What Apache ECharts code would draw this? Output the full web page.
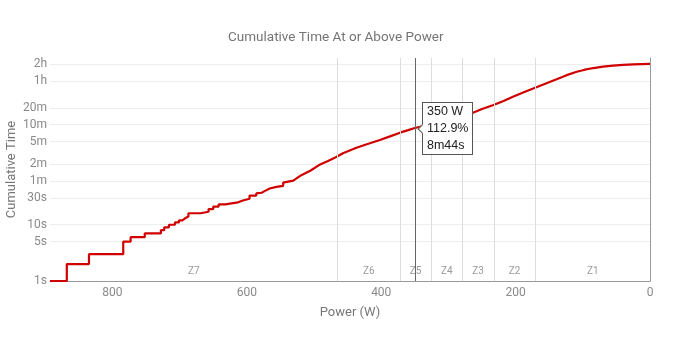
<!DOCTYPE html>
<html>
<head>
<meta charset="utf-8">
<script src="https://cdn.jsdelivr.net/npm/echarts@6/dist/echarts.min.js"></script>
<style>
  html, body { margin: 0; padding: 0; background: #fff; }
  #chart { width: 690px; height: 337px; }
</style>
</head>
<body>
<div id="chart"></div>
<script>
// Power (W), highest first, and the cumulative seconds spent at or above it.
// Repeated power values form the vertical risers of the stair steps.
const powerW = [
  893, 868, 868, 835, 835, 784, 784, 773, 773, 752, 752, 728, 728, 723, 723, 716,
  716, 707, 707, 701, 701, 696, 696, 692, 692, 687, 687, 669, 669, 657, 657, 650,
  650, 642, 642, 632, 632, 623, 623, 613, 613, 606, 606, 596, 596, 586, 586, 578,
  573, 566, 556, 546, 546, 531, 519, 505, 491, 480, 467, 457, 437, 417, 402, 387,
  372, 360, 350, 325, 300, 280, 268, 250, 233, 218, 204, 187, 170, 155, 139, 124,
  109, 97, 84, 70, 55, 40, 25, 12, 0
];
const cumSeconds = [
  1, 1, 2, 2, 3, 3, 5, 5, 6, 6, 7, 7, 8, 8, 9, 9,
  10, 10, 11, 11, 12, 12, 13, 13, 14, 14, 16, 16, 17, 17, 19, 19,
  21, 21, 23, 23, 24, 24, 25, 25, 27, 27, 29, 29, 33, 33, 36, 37,
  40, 44, 47, 49, 56, 61, 76, 92, 118, 135, 160, 186, 234, 280, 321, 372,
  433, 480, 524, 617, 743, 850, 930, 1141, 1344, 1583, 1888, 2287, 2750, 3230, 3850, 4560,
  5250, 5700, 6100, 6450, 6750, 6950, 7100, 7180, 7250
];

// Functional threshold power and the zone split points as a share of it.
const ftp = 310;
const zoneNames = ['Z1', 'Z2', 'Z3', 'Z4', 'Z5', 'Z6', 'Z7'];
const zoneUpperPct = [0.55, 0.75, 0.90, 1.05, 1.20, 1.50];

// Time axis labels (seconds) and the highlighted power.
const timeTicks = [1, 5, 10, 30, 60, 120, 300, 600, 1200, 3600, 7200];
const markerPower = 350;

function fmtDuration(sec) {
  sec = Math.round(sec);
  const h = Math.floor(sec / 3600);
  const m = Math.floor((sec % 3600) / 60);
  const s = sec % 60;
  let out = '';
  if (h) out += h + 'h';
  if (m) out += m + 'm';
  if (s || !out) out += s + 's';
  return out;
}

const maxPower = Math.max(...powerW);
const series = powerW.map((p, i) => [p, cumSeconds[i]]);
const markerIdx = powerW.indexOf(markerPower);
const markerPoint = [markerPower, cumSeconds[markerIdx]];

const bounds = [0].concat(zoneUpperPct.map(p => p * ftp), [maxPower]);
const zoneAreas = zoneNames.map((name, i) => [
  { xAxis: bounds[i], name: name },
  { xAxis: bounds[i + 1] }
]);
const zoneLines = zoneUpperPct.map(p => ({ xAxis: p * ftp }));

const gray = '#8a8a8a';
const chart = echarts.init(document.getElementById('chart'), null, { renderer: 'canvas' });

chart.setOption({
  animation: false,
  backgroundColor: '#fff',
  textStyle: { fontFamily: 'Roboto, sans-serif' },
  title: {
    text: 'Cumulative Time At or Above Power',
    left: 228,
    top: 31,
    padding: 0,
    textStyle: { fontFamily: 'Roboto', fontSize: 13.5, fontWeight: 'normal', color: '#757575' }
  },
  grid: { left: 50, right: 40, top: 58, bottom: 56, containLabel: false, outerBoundsMode: 'none' },
  xAxis: {
    type: 'value',
    inverse: true,
    min: 0,
    max: maxPower,
    interval: 200,
    name: 'Power (W)',
    nameLocation: 'middle',
    nameGap: 25,
    nameMoveOverlap: false,
    nameTextStyle: { fontFamily: 'Roboto', fontSize: 13, color: '#777' },
    axisLine: { lineStyle: { color: '#999' } },
    axisTick: { show: false },
    axisLabel: { color: gray, fontSize: 12, margin: 6, showMaxLabel: false },
    splitLine: { show: false }
  },
  yAxis: {
    type: 'log',
    logBase: 10,
    min: 1,
    max: 9200,
    name: 'Cumulative Time',
    nameLocation: 'middle',
    nameGap: 32,
    nameMoveOverlap: false,
    nameTextStyle: { fontFamily: 'Roboto', fontSize: 13, color: '#777' },
    axisLine: { show: true, lineStyle: { color: '#999' } },
    axisTick: { show: false, customValues: timeTicks },
    axisLabel: {
      customValues: timeTicks,
      color: gray,
      fontSize: 12,
      margin: 3,
      formatter: v => fmtDuration(v)
    },
    splitLine: { show: true, lineStyle: { color: '#eee', width: 1 } }
  },
  tooltip: {
    trigger: 'item',
    triggerOn: 'none',
    alwaysShowContent: true,
    position: 'right',
    transitionDuration: 0,
    showDelay: 0,
    backgroundColor: '#fff',
    borderColor: '#555',
    borderWidth: 1,
    padding: [0, 4],
    textStyle: { fontFamily: 'Liberation Sans, Arial, sans-serif', fontSize: 12.5, color: '#222' },
    extraCssText: 'box-shadow:none;border-radius:0;line-height:17px;margin-left:-4px;',
    formatter: p => {
      const w = p.value[0];
      const pct = (w / ftp * 100).toFixed(1);
      return w + ' W<br>' + pct + '%<br>' + fmtDuration(p.value[1]);
    }
  },
  series: [
    {
      name: 'Cumulative time',
      type: 'line',
      data: series,
      showSymbol: false,
      silent: true,
      lineStyle: { color: '#d00000', width: 2.2 },
      z: 3,
      markArea: {
        silent: true,
        itemStyle: { color: 'rgba(0,0,0,0)' },
        label: {
          show: true,
          position: 'insideBottom',
          distance: 5,
          fontFamily: 'Roboto',
          fontSize: 10,
          color: '#9a9a9a'
        },
        data: zoneAreas
      },
      markLine: {
        silent: true,
        symbol: ['none', 'none'],
        label: { show: false },
        lineStyle: { color: '#ddd', width: 1, type: 'solid' },
        data: zoneLines
      }
    },
    {
      name: 'Marker',
      type: 'scatter',
      data: [markerPoint],
      symbolSize: 2,
      itemStyle: { color: 'rgba(0,0,0,0)' },
      z: 5,
      markLine: {
        silent: true,
        symbol: ['none', 'none'],
        label: { show: false },
        lineStyle: { color: '#666', width: 1, type: 'solid' },
        data: [{ xAxis: markerPower }]
      }
    }
  ]
});

chart.dispatchAction({ type: 'showTip', seriesIndex: 1, dataIndex: 0 });
</script>
</body>
</html>
